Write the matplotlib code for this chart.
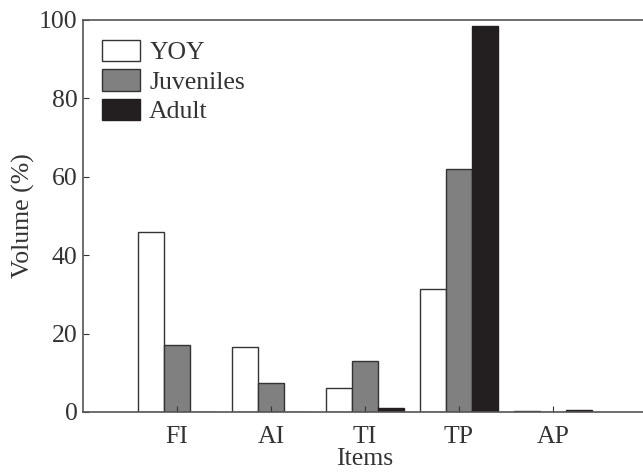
import matplotlib.pyplot as plt
import numpy as np

plt.rcParams['font.family'] = ['Liberation Serif', 'DejaVu Serif']

items = ['FI', 'AI', 'TI', 'TP', 'AP']
yoy = [46, 16.5, 6, 31.5, 0.3]
juveniles = [17, 7.5, 13, 62, 0]
adult = [0, 0, 1, 98.5, 0.5]

fig = plt.figure(figsize=(6.43, 4.74), dpi=100)
ax = fig.add_axes([83/643, 62/474, 564/643, 392/474])

x = np.arange(1, len(items) + 1)
w = 0.28
ax.bar(x - w, yoy, w, color='white', edgecolor='#333333', linewidth=1, label='YOY')
ax.bar(x, juveniles, w, color='#808080', edgecolor='#333333', linewidth=1, label='Juveniles')
ax.bar(x + w, adult, w, color='#231f20', edgecolor='#231f20', linewidth=1, label='Adult')

ax.set_xlim(0, 6)
ax.set_ylim(0, 100)
ax.set_xticks(x)
ax.set_xticklabels(items)
ax.set_yticks([0, 20, 40, 60, 80, 100])
ax.tick_params(direction='in', length=4, labelsize=18.5, colors='#333333', pad=4)
ax.tick_params(axis='x', pad=10)
for s in ['left', 'top', 'bottom']:
    ax.spines[s].set_color('#555555')
    ax.spines[s].set_linewidth(1.2)
ax.spines['right'].set_visible(False)

ax.set_xlabel('Items', fontsize=18.5, color='#333333', labelpad=0)
ax.set_ylabel('Volume (%)', fontsize=18.5, color='#333333', labelpad=3)

ax.legend(loc='upper left', frameon=False, fontsize=18.5, handlelength=1.48,
          handleheight=0.9, labelspacing=0.2, handletextpad=0.35, borderpad=0,
          borderaxespad=0, bbox_to_anchor=(0.034, 0.95), labelcolor='#333333')

fig.savefig('out.png', dpi=100)
